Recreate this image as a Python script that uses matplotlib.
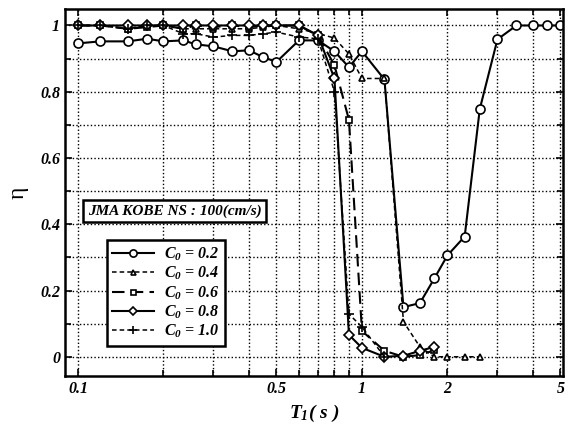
import numpy as np
import matplotlib
matplotlib.use('Agg')
import matplotlib.pyplot as plt
from matplotlib.ticker import FixedLocator, FixedFormatter, MultipleLocator

plt.rcParams['font.family'] = 'Liberation Serif'
plt.rcParams['mathtext.fontset'] = 'custom'
plt.rcParams['mathtext.it'] = 'Liberation Serif:bold:italic'
plt.rcParams['mathtext.rm'] = 'Liberation Serif:bold:italic'

# periods (s) and efficiency values
T_02 = [0.1, 0.12, 0.15, 0.175, 0.2, 0.235, 0.26, 0.3, 0.35, 0.4, 0.45, 0.5, 0.6, 0.7,
        0.8, 0.9, 1.0, 1.2, 1.4, 1.6, 1.8, 2.0, 2.3, 2.6, 3.0, 3.5, 4.0, 4.5, 5.0]
eta_02 = [0.946, 0.952, 0.952, 0.96, 0.952, 0.955, 0.943, 0.937, 0.922, 0.925, 0.904, 0.89, 0.955, 0.955,
          0.922, 0.874, 0.922, 0.837, 0.15, 0.162, 0.237, 0.306, 0.363, 0.748, 0.958, 1.0, 1.0, 1.0, 1.0]

T_04 = T_02[:24]
eta_04 = [1.0, 1.0, 0.99, 1.0, 1.0, 0.99, 0.99, 0.99, 0.99, 0.99, 0.995, 1.0, 0.99, 0.976,
          0.962, 0.914, 0.84, 0.84, 0.106, 0.03, 0.0, 0.0, 0.0, 0.0]

T_06 = T_02[:21]
eta_06 = [1.0, 1.0, 0.99, 0.995, 1.0, 0.99, 1.0, 0.995, 1.0, 0.995, 1.0, 1.0, 1.0, 0.97,
          0.88, 0.715, 0.078, 0.018, 0.0, 0.005, 0.02]

T_08 = T_02[:21]
eta_08 = [1.0, 1.0, 1.0, 1.0, 1.0, 1.0, 1.0, 1.0, 1.0, 1.0, 1.0, 1.0, 1.0, 0.97,
          0.84, 0.066, 0.027, 0.0, 0.003, 0.018, 0.03]

T_10 = T_02[:18]
eta_10 = [1.0, 1.0, 0.99, 1.0, 1.0, 0.975, 0.975, 0.965, 0.97, 0.97, 0.975, 0.98, 0.965, 0.96,
          0.80, 0.129, 0.09, 0.0]

x_major = [0.1, 0.5, 1, 2, 5]
x_minor = [0.2, 0.3, 0.4, 0.6, 0.7, 0.8, 0.9, 3, 4]
x_labels = ['0.1', '0.5', '1', '2', '5']

fig = plt.figure(figsize=(5.68, 4.24), dpi=100)
ax = fig.add_axes([0.1144, 0.1132, 0.8766, 0.8658])

mk = dict(markerfacecolor='white', markeredgecolor='black', markeredgewidth=1.2, color='black')
ax.plot(T_02, eta_02, '-', marker='o', ms=6.5, lw=1.5, label='$C_0$ = 0.2', **mk)
ax.plot(T_04, eta_04, '--', marker='^', ms=4.5, lw=1.1, dashes=(3, 2), label='$C_0$ = 0.4', **mk)
ax.plot(T_06, eta_06, '--', marker='s', ms=4.5, lw=1.5, dashes=(6, 3), label='$C_0$ = 0.6', **mk)
ax.plot(T_08, eta_08, '-', marker='D', ms=5, lw=1.5, label='$C_0$ = 0.8', **mk)
ax.plot(T_10, eta_10, '--', marker='+', ms=7, lw=1.1, dashes=(3, 2), label='$C_0$ = 1.0', **mk)

ax.set_xscale('log')
ax.set_xlim(0.09, 5.1)
ax.set_ylim(-0.058, 1.05)

ax.xaxis.set_major_locator(FixedLocator(x_major))
ax.xaxis.set_major_formatter(FixedFormatter(x_labels))
ax.xaxis.set_minor_locator(FixedLocator(x_minor))
ax.xaxis.set_minor_formatter(FixedFormatter([''] * len(x_minor)))
ax.yaxis.set_minor_locator(MultipleLocator(0.1))
ax.set_yticks([0, 0.2, 0.4, 0.6, 0.8, 1.0])
ax.set_yticklabels(['0', '0.2', '0.4', '0.6', '0.8', '1'])

ax.grid(True, which='both', color='black', linestyle=(0, (1, 1.6)), linewidth=1.0)
ax.tick_params(which='both', direction='in', top=True, right=True, width=1.2)
ax.tick_params(which='major', length=5)
ax.tick_params(which='minor', length=4)
for lab in ax.get_xticklabels() + ax.get_yticklabels():
    lab.set_fontweight('bold')
    lab.set_fontstyle('italic')
    lab.set_fontsize(11.5)
for sp in ax.spines.values():
    sp.set_linewidth(1.8)

ax.set_xlabel('$T_1$( s )', fontsize=14, fontweight='bold', fontstyle='italic')
ax.set_ylabel('η', fontsize=17, rotation=90, labelpad=8)

ax.text(0.2195, 0.44, 'JMA KOBE NS : 100(cm/s)', fontsize=11, fontweight='bold', fontstyle='italic',
        ha='center', va='center',
        bbox=dict(boxstyle='square,pad=0.3', facecolor='white', edgecolor='black', linewidth=1.8))

leg = ax.legend(loc='upper left', bbox_to_anchor=(0.084, 0.37), fancybox=False, framealpha=1,
                edgecolor='black', handlelength=2.6, handletextpad=0.6, borderpad=0.35,
                labelspacing=0.12, borderaxespad=0, markerscale=0.8,
                prop=dict(family='Liberation Serif', weight='bold', style='italic', size=11.5))
leg.get_frame().set_linewidth(1.8)

fig.savefig('out.png', dpi=100)
